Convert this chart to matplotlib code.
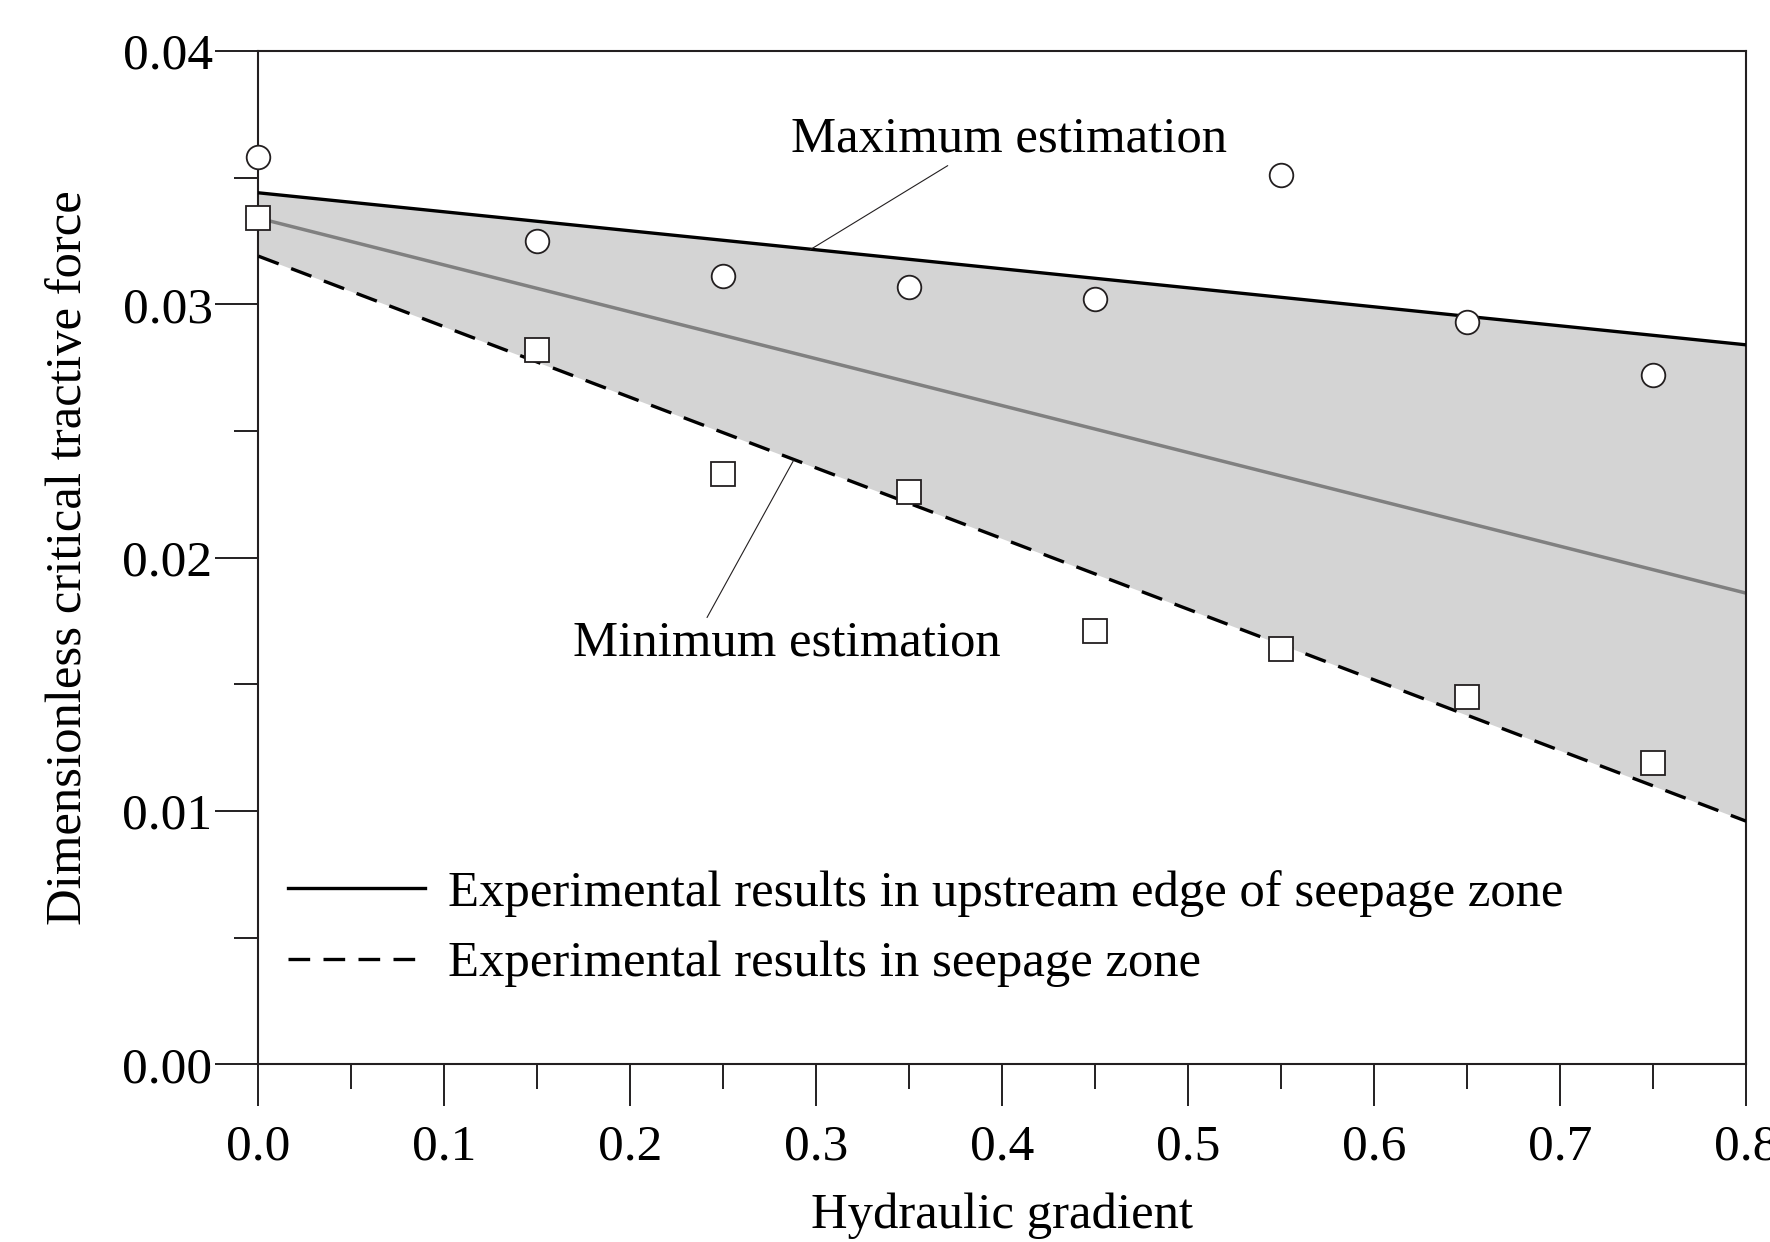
import numpy as np
import matplotlib.pyplot as plt
from matplotlib.ticker import MultipleLocator, StrMethodFormatter

plt.rcParams['font.family'] = ['Liberation Serif', 'DejaVu Serif']

# measured points
x_pts = [0.0, 0.15, 0.25, 0.35, 0.45, 0.55, 0.65, 0.75]
upstream = [0.0358, 0.0325, 0.0311, 0.0307, 0.0302, 0.0351, 0.0293, 0.0272]
seepage = [0.0334, 0.0282, 0.0233, 0.0226, 0.0171, 0.0164, 0.0145, 0.0119]

# fitted lines (values at the ends of the x range)
x_fit = [0.0, 0.8]
fit_upstream = [0.0344, 0.0284]
fit_seepage = [0.0319, 0.0096]
fit_middle = [0.0334, 0.0186]

ink = '#231f20'
fs = 36.5

fig = plt.figure(figsize=(17.7, 12.42), dpi=100)
ax = fig.add_axes([0.146, 0.143, 0.8405, 0.816])

ax.fill_between(x_fit, fit_seepage, fit_upstream, color='#d4d4d4', lw=0, zorder=1)
ax.plot(x_fit, fit_middle, color='#808080', lw=2.5, zorder=2)
ax.plot(x_fit, fit_upstream, color='black', lw=2.4, zorder=3,
        label='Experimental results in upstream edge of seepage zone')
ax.plot(x_fit, fit_seepage, color='black', lw=2.4, ls=(0, (6.5, 4)), zorder=3,
        label='Experimental results in seepage zone')

ax.plot(x_pts, upstream, 'o', ms=17, mfc='white', mec=ink, mew=1.3, zorder=5, clip_on=False)
ax.plot(x_pts, seepage, 's', ms=17, mfc='white', mec=ink, mew=1.3, zorder=5, clip_on=False)

# annotations
ax.annotate('Maximum estimation', xy=(0.2968, 0.03216), xytext=(0.4036, 0.03650),
            fontsize=fs, ha='center', va='center',
            arrowprops=dict(arrowstyle='-', color=ink, lw=0.8, shrinkA=0, shrinkB=0,
                            relpos=(0.37, 0.0)))
ax.annotate('Minimum estimation', xy=(0.2877, 0.02383), xytext=(0.2841, 0.01661),
            fontsize=fs, ha='center', va='center',
            arrowprops=dict(arrowstyle='-', color=ink, lw=0.8, shrinkA=0, shrinkB=0,
                            relpos=(0.31, 1.0)))

ax.set_xlim(0, 0.8)
ax.set_ylim(0, 0.04)
ax.xaxis.set_major_locator(MultipleLocator(0.1))
ax.xaxis.set_minor_locator(MultipleLocator(0.05))
ax.yaxis.set_major_locator(MultipleLocator(0.01))
ax.yaxis.set_minor_locator(MultipleLocator(0.005))
ax.xaxis.set_major_formatter(StrMethodFormatter('{x:.1f}'))
ax.yaxis.set_major_formatter(StrMethodFormatter('{x:.2f}'))

ax.tick_params(axis='x', which='major', direction='out', length=30, width=1.4,
               color=ink, labelsize=37, pad=13)
ax.tick_params(axis='x', which='minor', direction='out', length=18, width=1.4, color=ink)
ax.tick_params(axis='y', which='major', direction='out', length=31, width=1.4,
               color=ink, labelsize=37, pad=2)
ax.tick_params(axis='y', which='minor', direction='out', length=17, width=1.4, color=ink)
for s in ax.spines.values():
    s.set_linewidth(1.5)
    s.set_color(ink)

ax.set_xlabel('Hydraulic gradient', fontsize=fs, labelpad=16)
ax.set_ylabel('Dimensionless critical tractive force', fontsize=fs, labelpad=22)

ax.legend(loc='lower left', bbox_to_anchor=(-0.004, 0.041), frameon=False, fontsize=fs,
          handlelength=2.7, handletextpad=0.45, labelspacing=0.47, borderaxespad=0.3)

fig.savefig('out.png', dpi=100)
